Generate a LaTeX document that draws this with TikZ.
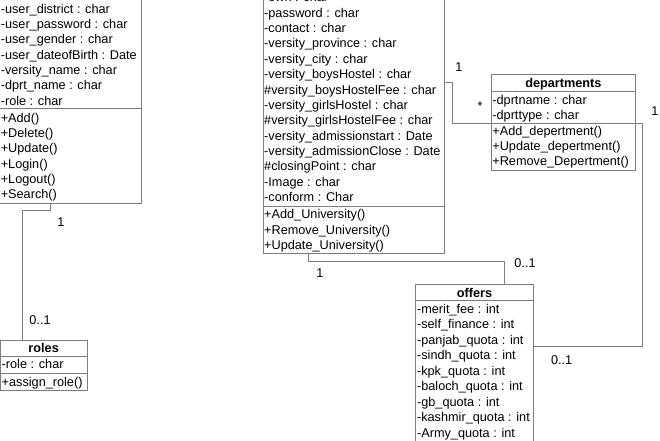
\documentclass[tikz,border=0pt]{standalone}
\usepackage{fontspec}
\setmainfont{Liberation Sans}
\usetikzlibrary{positioning}
\definecolor{umlgray}{RGB}{125,125,125}
\tikzset{%
	classbox/.style={
		draw=umlgray,
		line width=0.9pt,
		inner sep=0pt,
		outer sep=0pt
	},
	member/.style={
		anchor=base west,
		inner sep=0pt,
		font=\fontsize{12.7}{15}\selectfont
	},
	classtitle/.style={
		anchor=base,
		inner sep=0pt,
		font=\bfseries\fontsize{12.7}{15}\selectfont
	},
	assoc/.style={draw=umlgray, line width=0.9pt},
	sepline/.style={draw=umlgray, line width=0.9pt},
	mult/.style={
		anchor=base,
		inner sep=0pt,
		font=\fontsize{12.7}{15}\selectfont
	},
}

\begin{document}
\begin{tikzpicture}[x=1pt, y=-1pt]
			\useasboundingbox (0,0) rectangle (660,440);
			
			% Draw the user class
			\node[classbox, minimum width=142.3pt, minimum height=243pt] (user) at (70.55,81.5) {};
			\foreach \txt [count=\i from 0] in {-user\_district : char, -user\_password : char, -user\_gender : char, -user\_dateofBirth : Date, -versity\_name : char, -dprt\_name : char, -role : char}
				\node[member] (ua\i) at (0.6,13+15.35*\i) {\txt};
			\draw[sepline] (user.west |- 0,108.7) -- (user.east |- 0,108.7);
			\foreach \txt [count=\i from 0] in {+Add(), +Delete(), +Update(), +Login(), +Logout(), +Search()}
				\node[member] (um\i) at (0.6,122.3+15.3*\i) {\txt};
			
			% Draw the roles class
			\node[classbox, minimum width=86.7pt, minimum height=50pt] (roles) at (43.65,365) {};
			\node[classtitle] (rolesT) at (roles.north |- 0,352.5) {roles};
			\draw[sepline] (roles.west |- 0,356.7) -- (roles.east |- 0,356.7);
			\node[member] (ra0) at (1.5,368.5) {-role : char};
			\draw[sepline] (roles.west |- 0,373) -- (roles.east |- 0,373);
			\node[member] (rm0) at (1.5,386.5) {+assign\_role()};
			
			% Draw the university class
			\node[classbox, minimum width=181pt, minimum height=293pt] (univ) at (353.5,106.5) {};
			\foreach \txt [count=\i from 0] in {-own : char, -password : char, -contact : char, -versity\_province : char, -versity\_city : char, -versity\_boysHostel : char, \#versity\_boysHostelFee : char, -versity\_girlsHostel : char, \#versity\_girlsHostelFee : char, -versity\_admissionstart : Date, -versity\_admissionClose : Date, \#closingPoint : char, -Image : char, -conform : Char}
				\node[member] (va\i) at (264,1.85+15.36*\i) {\txt};
			\draw[sepline] (univ.west |- 0,206) -- (univ.east |- 0,206);
			\foreach \txt [count=\i from 0] in {+Add\_University(), +Remove\_University(), +Update\_University()}
				\node[member] (vm\i) at (264,218.7+15.4*\i) {\txt};
			
			% Draw the departments class
			\node[classbox, minimum width=144.7pt, minimum height=96.3pt] (dept) at (563.35,122.15) {};
			\node[classtitle] (deptT) at (dept.north |- 0,87.5) {departments};
			\draw[sepline] (dept.west |- 0,91.3) -- (dept.east |- 0,91.3);
			\foreach \txt [count=\i from 0] in {-dprtname : char, -dprttype : char}
				\node[member] (da\i) at (492.2,104.8+15*\i) {\txt};
			\draw[sepline] (dept.west |- 0,123) -- (dept.east |- 0,123);
			\foreach \txt [count=\i from 0] in {+Add\_depertment(), +Update\_depertment(), +Remove\_Depertment()}
				\node[member] (dm\i) at (492.2,135.8+14.7*\i) {\txt};
			
			% Draw the offers class
			\node[classbox, minimum width=117.6pt, minimum height=195.7pt] (offers) at (474.5,382.15) {};
			\node[classtitle] (offersT) at (offers.north |- 0,297) {offers};
			\draw[sepline] (offers.west |- 0,300.7) -- (offers.east |- 0,300.7);
			\foreach \txt [count=\i from 0] in {-merit\_fee : int, -self\_finance : int, -panjab\_quota : int, -sindh\_quota : int, -kpk\_quota : int, -baloch\_quota : int, -gb\_quota : int, -kashmir\_quota : int, -Army\_quota : int}
				\node[member] (oa\i) at (416.9,313.5+15.45*\i) {\txt};
			
			% Draw the associations
			\coordinate (ur) at (22,210.7);
			\draw[assoc] (user.south -| 50,0) |- (ur) -- (roles.north -| ur);
			\node[mult] (ur1) at (61,226.5) {1};
			\node[mult] (ur2) at (40,324.5) {0..1};
			
			\draw[assoc] (univ.east |- 0,82) -- ++(8,0) |- (dept.west |- 0,123);
			\node[mult] (ud1) at (459,71.8) {1};
			\node[mult] (ud2) at (480,110.6) {*};
			
			\draw[assoc] (dept.east |- 0,123) -- ++(6.3,0) |- (offers.east |- 0,346.7);
			\node[mult] (do1) at (655,115.5) {1};
			\node[mult] (do2) at (561.7,364.5) {0..1};
			
			\coordinate (uo) at (504,261.7);
			\draw[assoc] (univ.south -| 308.3,0) |- (uo) -- (offers.north -| uo);
			\node[mult] (uo1) at (320,277.8) {1};
			\node[mult] (uo2) at (525,267.8) {0..1};
			
\end{tikzpicture}
\end{document}
